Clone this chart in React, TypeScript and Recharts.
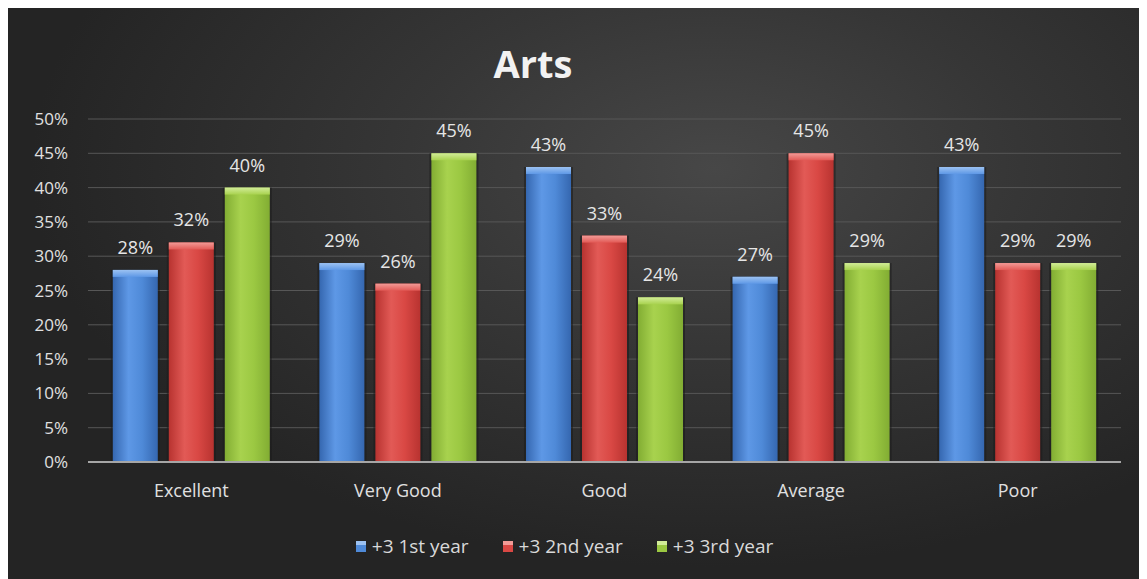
import React from "react";
import {
    BarChart,
    Bar,
    XAxis,
    YAxis,
    CartesianGrid,
    Legend,
    LabelList,
} from "recharts";

const categories = ["Excellent", "Very Good", "Good", "Average", "Poor"];
const firstYear = [28, 29, 43, 27, 43];
const secondYear = [32, 26, 33, 45, 29];
const thirdYear = [40, 45, 24, 29, 29];
const yTicks = [0, 5, 10, 15, 20, 25, 30, 35, 40, 45, 50];

const data = categories.map((name, i) => ({
    name,
    first: firstYear[i],
    second: secondYear[i],
    third: thirdYear[i],
}));

const FONT = "'Open Sans', sans-serif";

const seriesColors: Record<string, { dark: string; mid: string; light: string; top: string }> = {
    blue: { dark: "#3567b0", mid: "#4f8ad8", light: "#5e98e6", top: "#9cc2f2" },
    red: { dark: "#b83330", mid: "#d94844", light: "#e25a56", top: "#f29a96" },
    green: { dark: "#82ad33", mid: "#9bc842", light: "#a8d24e", top: "#d2ec98" },
};

const makeShape = (key: string) => (props: any) => {
    const { x, y, width, height } = props;
    if (!height || height <= 0) return null;
    const bevel = Math.min(7, height);
    return (
        <g>
            <rect x={x - 2} y={y} width={width + 4} height={height} fill="#1b1b1b" opacity={0.55} />
            <rect x={x} y={y} width={width} height={height} fill={`url(#grad-${key})`} />
            <rect x={x} y={y} width={width} height={bevel} fill={`url(#top-${key})`} />
        </g>
    );
};

const LegendIcon = ({ k }: { k: string }) => (
    <svg width={11} height={14} style={{ marginRight: 5 }}>
        <rect x={0} y={2} width={10} height={11} fill={seriesColors[k].mid} />
        <rect x={0} y={2} width={10} height={4} fill={seriesColors[k].top} />
    </svg>
);

const renderLegend = () => {
    const items = [
        { k: "blue", label: "+3 1st year" },
        { k: "red", label: "+3 2nd year" },
        { k: "green", label: "+3 3rd year" },
    ];
    return (
        <div style={{ display: "flex", justifyContent: "center", gap: 34, color: "#d9d9d9", fontSize: 19, fontFamily: FONT }}>
            {items.map((it) => (
                <span key={it.k} style={{ display: "inline-flex", alignItems: "center" }}>
                    <LegendIcon k={it.k} />
                    {it.label}
                </span>
            ))}
        </div>
    );
};

const App = () => {
    return (
        <div
            style={{
                width: 1139,
                height: 571,
                position: "relative",
                background:
                    "radial-gradient(ellipse 60% 70% at 62% 28%, #474747 0%, #363636 45%, #242424 100%)",
                fontFamily: FONT,
            }}
        >
            <div
                style={{
                    position: "absolute",
                    left: 0,
                    width: 1050,
                    top: 29,
                    textAlign: "center",
                    color: "#f2f2f2",
                    fontWeight: 700,
                    fontSize: 38,
                    fontFamily: FONT,
                }}
            >
                Arts
            </div>
            <BarChart
                width={1139}
                height={571}
                data={data}
                margin={{ top: 111, right: 26, left: 0, bottom: 27 }}
                barCategoryGap="12%"
                barGap={11}
            >
                <defs>
                    {Object.keys(seriesColors).map((k) => (
                        <React.Fragment key={k}>
                            <linearGradient id={`grad-${k}`} x1="0" y1="0" x2="1" y2="0">
                                <stop offset="0%" stopColor={seriesColors[k].dark} />
                                <stop offset="35%" stopColor={seriesColors[k].light} />
                                <stop offset="65%" stopColor={seriesColors[k].mid} />
                                <stop offset="100%" stopColor={seriesColors[k].dark} />
                            </linearGradient>
                            <linearGradient id={`top-${k}`} x1="0" y1="0" x2="0" y2="1">
                                <stop offset="0%" stopColor={seriesColors[k].top} />
                                <stop offset="100%" stopColor={seriesColors[k].light} />
                            </linearGradient>
                        </React.Fragment>
                    ))}
                </defs>
                <CartesianGrid vertical={false} stroke="#575757" strokeWidth={1} />
                <XAxis
                    dataKey="name"
                    tickLine={false}
                    axisLine={{ stroke: "#a6a6a6", strokeWidth: 2 }}
                    tick={{ fill: "#e0e0e0", fontSize: 18 }}
                    tickMargin={16}
                    height={50}
                />
                <YAxis
                    width={80}
                    domain={[0, 50]}
                    ticks={yTicks}
                    tickFormatter={(v) => `${v}%`}
                    axisLine={false}
                    tickLine={false}
                    tick={{ fill: "#e0e0e0", fontSize: 17 }}
                    tickMargin={14}
                />
                <Legend content={renderLegend} verticalAlign="bottom" height={40} wrapperStyle={{ bottom: 6 }} />
                <Bar dataKey="first" isAnimationActive={false} shape={makeShape("blue")}>
                    <LabelList dataKey="first" position="top" offset={16} formatter={(v: any) => `${v}%`} fill="#e6e6e6" fontSize={18} />
                </Bar>
                <Bar dataKey="second" isAnimationActive={false} shape={makeShape("red")}>
                    <LabelList dataKey="second" position="top" offset={16} formatter={(v: any) => `${v}%`} fill="#e6e6e6" fontSize={18} />
                </Bar>
                <Bar dataKey="third" isAnimationActive={false} shape={makeShape("green")}>
                    <LabelList dataKey="third" position="top" offset={16} formatter={(v: any) => `${v}%`} fill="#e6e6e6" fontSize={18} />
                </Bar>
            </BarChart>
        </div>
    );
};

export default App;
